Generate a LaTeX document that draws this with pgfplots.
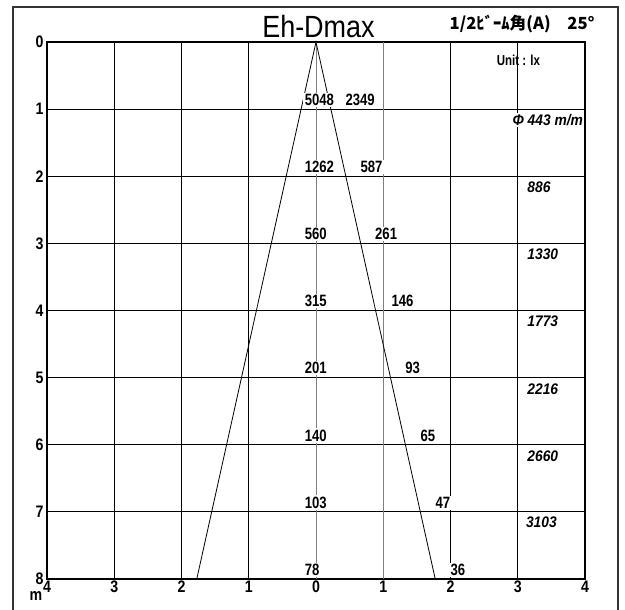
\documentclass[border=0pt]{standalone}
\usepackage{fontspec}
\usepackage{pgfplots}
\pgfplotsset{compat=1.18}
\usepackage{pgfplotstable}
\setmainfont{Liberation Sans}
\newfontfamily\numfont{Liberation Sans}[FakeStretch=0.8]
\newfontfamily\tickfont{Liberation Sans}[FakeStretch=0.85]
\newfontfamily\titlefont{Liberation Sans}[FakeStretch=0.88]
\newfontfamily\itfont{Liberation Sans}[FakeStretch=0.9]
\newfontfamily\jpfont{Noto Sans CJK JP}

\pgfplotstableread{
x y lab
-0.19 0.945 5048
-0.19 1.945 1262
-0.19 2.945 560
-0.19 3.945 315
-0.19 4.945 201
-0.19 5.945 140
-0.19 6.945 103
-0.19 7.945 78
}\centertab

\pgfplotstableread{
x y lab
0.416 0.945 2349
0.639 1.945 587
0.856 2.945 261
1.100 3.945 146
1.304 4.945 93
1.531 5.945 65
1.754 6.945 47
1.977 7.945 36
}\edgetab

\pgfplotstableread{
x y lab
3.12 2.165 886
3.12 3.165 1330
3.12 4.165 1773
3.12 5.165 2216
3.12 6.165 2660
3.10 7.160 3103
}\diamtab

\begin{document}
\begin{tikzpicture}
\begin{axis}[
  scale only axis,
  width=403.5pt, height=402.75pt,
  xmin=-4, xmax=4, ymin=0, ymax=8,
  y dir=reverse,
  clip=false,
  xtick={-4,-3,-2,-1,2,3,4},
  xticklabels={4,3,2,1,2,3,4},
  extra x ticks={0,1},
  extra x tick labels={0,1},
  extra x tick style={grid style={black!50, line width=0.75pt}},
  ytick={0,1,2,3,4,5,6,7,8},
  major tick length=0pt,
  xmajorgrids, ymajorgrids,
  grid style={black, line width=0.75pt},
  axis line style={black, line width=1.3pt},
  /pgf/number format/assume math mode=true,
  ticklabel style={font=\tickfont\bfseries\fontsize{12.5}{13}\selectfont},
  xticklabel style={inner sep=1.2pt},
  yticklabel style={inner sep=2.5pt},
]
\addplot[draw=none, nodes near coords, point meta=explicit symbolic,
  nodes near coords style={anchor=base west, fill=white, inner sep=1pt,
    font=\numfont\bfseries\fontsize{12.3}{12}\selectfont}]
  table[x=x, y=y, meta=lab] {\centertab};
\addplot[draw=none, nodes near coords, point meta=explicit symbolic,
  nodes near coords style={anchor=base west, fill=white, inner sep=1pt,
    font=\numfont\bfseries\fontsize{12.3}{12}\selectfont}]
  table[x=x, y=y, meta=lab] {\edgetab};
\addplot[draw=none, nodes near coords, point meta=explicit symbolic,
  nodes near coords style={anchor=west, fill=white, inner sep=1pt,
    font=\itfont\bfseries\itshape\fontsize{11.5}{12}\selectfont}]
  table[x=x, y=y, meta=lab] {\diamtab};
\addplot[black, line width=0.6pt] coordinates {(-1.773,8) (0,0) (1.773,8)};

\node[anchor=east, fill=white, inner sep=0.8pt,
  font=\itfont\bfseries\itshape\fontsize{11.5}{12}\selectfont] at (axis cs:3.99,1.16) {Φ 443 m/m};
\node[font=\numfont\bfseries\fontsize{10.8}{11}\selectfont, inner sep=0pt] at (axis cs:3.01,0.268) {Unit : lx};
\node[anchor=base, inner sep=0pt, font=\titlefont\fontsize{23}{23}\selectfont] at (axis cs:0.037,-0.074) {Eh-Dmax};
\node[anchor=base east, inner sep=0pt, font=\jpfont\bfseries\fontsize{12.5}{13}\selectfont] at (axis cs:4.149,-0.194) {1/2ﾋﾞｰﾑ角(A)\quad 25°};
\node[inner sep=0pt, font=\tickfont\bfseries\fontsize{12.5}{13}\selectfont] at (axis cs:-4.163,8.253) {m};
\draw[black!80, line width=1pt] (axis cs:-4.506,8.8) -- (axis cs:-4.506,-0.521) -- (axis cs:4.491,-0.521) -- (axis cs:4.491,8.8);
\coordinate (bbA) at (axis cs:-4.699,-0.626);
\coordinate (bbB) at (axis cs:4.595,8.447);
\end{axis}
\pgfresetboundingbox
\path[use as bounding box] (bbA) rectangle (bbB);
\end{tikzpicture}
\end{document}
